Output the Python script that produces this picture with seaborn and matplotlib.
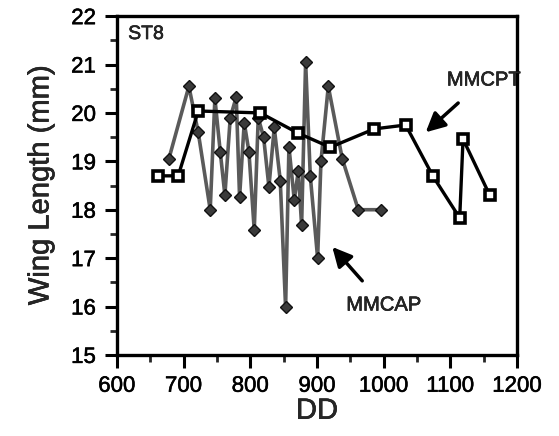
import matplotlib
matplotlib.use("Agg")
import matplotlib.pyplot as plt
import matplotlib.patheffects as pe
import seaborn as sns
import pandas as pd
from matplotlib.ticker import MultipleLocator

# MMCPT series (black squares)
mmcpt_dd = [662, 692, 722, 815, 872, 920, 986, 1033, 1074, 1114, 1119, 1159]
mmcpt_wl = [18.7, 18.7, 20.04, 20.0, 19.58, 19.29, 19.67, 19.75, 18.69, 17.83, 19.46, 18.30]

# MMCAP series (gray diamonds)
mmcap_dd = [678, 708, 722, 740, 747, 755, 762, 770, 779, 784, 791, 798, 806, 812,
            820, 828, 836, 845, 853, 858, 866, 872, 877, 883, 890, 901, 906, 917,
            938, 962, 996]
mmcap_wl = [19.05, 20.55, 19.6, 18.0, 20.3, 19.2, 18.3, 19.9, 20.33, 18.26, 19.8, 19.2,
            17.58, 19.9, 19.5, 18.47, 19.7, 18.6, 15.98, 19.3, 18.2, 18.8, 17.68, 21.05,
            18.7, 17.0, 19.0, 20.55, 19.05, 18.0, 18.0]

df_cpt = pd.DataFrame({"DD": mmcpt_dd, "WL": mmcpt_wl})
df_cap = pd.DataFrame({"DD": mmcap_dd, "WL": mmcap_wl})

sns.set_style("ticks")
plt.rcParams['font.family'] = ['Liberation Sans', 'DejaVu Sans']
thick = [pe.withStroke(linewidth=0.4, foreground="black")]

fig = plt.figure(figsize=(5.59, 4.36), dpi=100)
ax = fig.add_axes([0.209, 0.186, 0.716, 0.777])

sns.lineplot(data=df_cap, x="DD", y="WL", sort=False, ax=ax, color="#5a5a5a",
             linewidth=2.6, marker="D", markersize=6.5, markerfacecolor="#3a3a3a",
             markeredgecolor="#111111", markeredgewidth=1.0, zorder=2)
sns.lineplot(data=df_cpt, x="DD", y="WL", sort=False, ax=ax, color="black",
             linewidth=2.4, marker="s", markersize=7.5, markerfacecolor="white",
             markeredgecolor="black", markeredgewidth=2.6, zorder=3)

ax.set_xlim(600, 1200)
ax.set_ylim(15, 22)
ax.xaxis.set_major_locator(MultipleLocator(100))
ax.xaxis.set_minor_locator(MultipleLocator(50))
ax.yaxis.set_major_locator(MultipleLocator(1))
ax.yaxis.set_minor_locator(MultipleLocator(0.5))
ax.tick_params(which="major", direction="out", length=9, width=2.2, labelsize=16,
               colors="black", pad=6)
ax.tick_params(which="minor", direction="out", length=5, width=2.0)
for lab in ax.get_xticklabels() + ax.get_yticklabels():
    lab.set_path_effects(thick)
for s in ax.spines.values():
    s.set_linewidth(2.4)
    s.set_visible(True)
    s.set_color("black")

ax.set_xlabel("DD", fontsize=21, labelpad=0, path_effects=thick)
ax.set_ylabel("Wing Length (mm)", fontsize=21, labelpad=12, path_effects=thick)

ax.text(617, 21.62, "ST8", fontsize=14, ha="left", va="center", path_effects=thick)
ax.annotate("MMCPT", xy=(1063, 19.6), xytext=(1150, 20.68), fontsize=14.5,
            ha="center", va="center", path_effects=thick,
            arrowprops=dict(arrowstyle="-|>,head_length=0.8,head_width=0.4",
                            lw=2.5, color="black", shrinkA=11, shrinkB=0))
ax.annotate("MMCAP", xy=(923, 17.23), xytext=(1000, 16.03), fontsize=14.5,
            ha="center", va="center", path_effects=thick,
            arrowprops=dict(arrowstyle="-|>,head_length=0.8,head_width=0.4",
                            lw=2.5, color="black", shrinkA=11, shrinkB=0))

fig.savefig("out.png", dpi=100)
